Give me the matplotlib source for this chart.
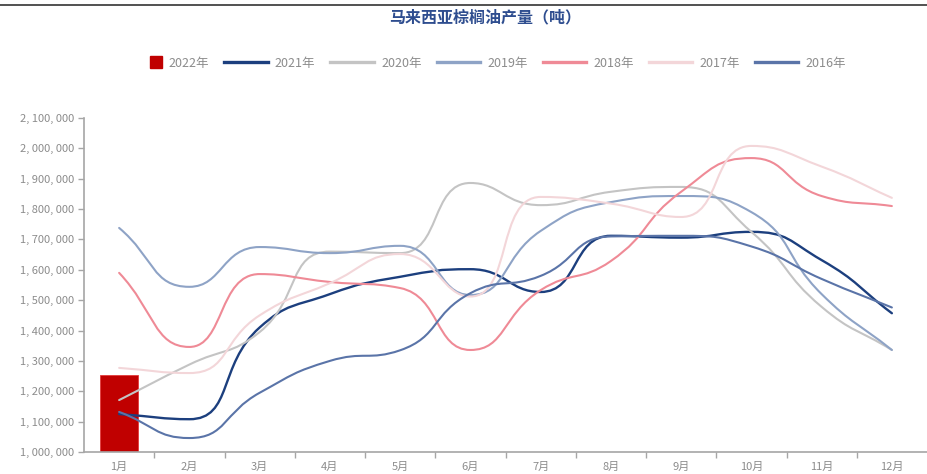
import matplotlib
matplotlib.use("Agg")
import matplotlib.pyplot as plt
from matplotlib.path import Path
from matplotlib.patches import PathPatch, Rectangle
from matplotlib.lines import Line2D
from matplotlib.legend_handler import HandlerPatch

plt.rcParams['font.family'] = ['Noto Sans CJK SC', 'DejaVu Sans']

# 数据（吨）
months = ['1月', '2月', '3月', '4月', '5月', '6月', '7月', '8月', '9月', '10月', '11月', '12月']
y2022 = [1254000]
y2021 = [1125000, 1108000, 1410000, 1520000, 1577000, 1602000, 1527000, 1712000, 1706000, 1725000, 1632000, 1457000]
y2020 = [1171000, 1288000, 1395000, 1660000, 1655000, 1886000, 1813000, 1857000, 1873000, 1725000, 1478000, 1336000]
y2019 = [1738000, 1544000, 1675000, 1655000, 1679000, 1517000, 1728000, 1823000, 1843000, 1790000, 1520000, 1336000]
y2018 = [1590000, 1346000, 1586000, 1560000, 1540000, 1336000, 1533000, 1629000, 1857000, 1968000, 1843000, 1810000]
y2017 = [1277000, 1260000, 1450000, 1556000, 1652000, 1512000, 1840000, 1818000, 1774000, 2008000, 1940000, 1837000]
y2016 = [1132000, 1046000, 1195000, 1300000, 1335000, 1523000, 1580000, 1710000, 1712000, 1677000, 1570000, 1476000]

series = [
    ('2021年', y2021, '#1c3f7e', 1.7),
    ('2020年', y2020, '#c4c4c4', 1.5),
    ('2019年', y2019, '#8ea3c6', 1.5),
    ('2018年', y2018, '#ef8a96', 1.5),
    ('2017年', y2017, '#f3d6d9', 1.5),
    ('2016年', y2016, '#5a74a8', 1.5),
]


def clamp(v, a, b):
    return max(min(a, b), min(max(a, b), v))


# 平滑曲线（类似 echarts smooth），在像素比例空间里算控制点
def smooth_path(xs, ys, sx, sy, s=0.5):
    px = [x * sx for x in xs]
    py = [y * sy for y in ys]
    n = len(px)
    cin = [None] * n
    cout = [None] * n
    for i in range(n):
        x, y = px[i], py[i]
        p = i - 1 if i > 0 else i
        q = i + 1 if i < n - 1 else i
        vx, vy = px[q] - px[p], py[q] - py[p]
        d0 = ((x - px[p]) ** 2 + (y - py[p]) ** 2) ** 0.5
        d1 = ((px[q] - x) ** 2 + (py[q] - y) ** 2) ** 0.5
        r = d1 / (d0 + d1) if d0 + d1 > 0 else 0.5
        ix, iy = x - vx * s * (1 - r), y - vy * s * (1 - r)
        ox, oy = x + vx * s * r, y + vy * s * r
        ox, oy = clamp(ox, x, px[q]), clamp(oy, y, py[q])
        if d0 > 0 and d1 > 0:
            ix, iy = x - (ox - x) * d0 / d1, y - (oy - y) * d0 / d1
        ix, iy = clamp(ix, px[p], x), clamp(iy, py[p], y)
        if d0 > 0 and d1 > 0:
            ox, oy = x + (x - ix) * d1 / d0, y + (y - iy) * d1 / d0
        cin[i] = (ix, iy)
        cout[i] = (ox, oy)
    verts = [(px[0], py[0])]
    codes = [Path.MOVETO]
    for i in range(n - 1):
        verts += [cout[i], cin[i + 1], (px[i + 1], py[i + 1])]
        codes += [Path.CURVE4] * 3
    verts = [(a / sx, b / sy) for a, b in verts]
    return Path(verts, codes)


fig = plt.figure(figsize=(9.27, 4.74), dpi=100)
ax = fig.add_axes([84 / 927, 22 / 474, 843 / 927, 334 / 474])

x = list(range(len(months)))
ax.bar(x[:len(y2022)], y2022, width=0.55, color='#c00000', edgecolor='#e23a3a',
       linewidth=0.6, zorder=2)

handles = [Rectangle((0, 0), 1, 1, color='#c00000')]
labels = ['2022年']
for name, vals, col, lw in series:
    path = smooth_path(x, vals, 70.25, 30.36 / 100000)
    ax.add_patch(PathPatch(path, fill=False, edgecolor=col, lw=lw, zorder=3,
                           capstyle='round', joinstyle='round'))
    handles.append(Line2D([], [], color=col, lw=2.4))
    labels.append(name)

ax.set_xlim(-0.5, 11.5)
ax.set_ylim(1000000, 2100000)
ax.set_yticks(range(1000000, 2100001, 100000))
ax.set_yticklabels(['{:,}'.format(v).replace(',', ', ') for v in range(1000000, 2100001, 100000)])

ax.set_xticks([i + 0.5 for i in range(11)])
ax.set_xticklabels([])
ax.set_xticks(x, minor=True)
ax.set_xticklabels(months, minor=True)
ax.tick_params(axis='x', which='major', length=4, width=1, color='#a6a6a6', direction='out')
ax.tick_params(axis='x', which='minor', length=0, pad=7, labelsize=8, labelcolor='#8c8c8c')
ax.tick_params(axis='y', length=4, width=1, color='#a6a6a6', pad=3, labelsize=8,
               labelcolor='#8c8c8c')

for side in ['top', 'right']:
    ax.spines[side].set_visible(False)
for side in ['left', 'bottom']:
    ax.spines[side].set_color('#a6a6a6')
    ax.spines[side].set_linewidth(1.2)


def square_patch(legend, orig_handle, xdescent, ydescent, width, height, fontsize):
    h = 0.95 * fontsize
    return Rectangle((width - xdescent - h, height / 2 - ydescent - h / 2), h, h)


fig.legend(handles, labels, ncol=7, loc='center', bbox_to_anchor=(0.52, 1 - 63 / 474),
           frameon=False, fontsize=9, labelcolor='#8c8c8c', handlelength=3.5,
           handletextpad=0.55, columnspacing=1.2,
           handler_map={Rectangle: HandlerPatch(patch_func=square_patch)})

fig.text(485 / 927, 1 - 17 / 474, '马来西亚棕榈油产量（吨）', ha='center', va='center',
         color='#2e4d8f', fontsize=11.5, fontweight='bold')
fig.add_artist(Line2D([0, 1], [1 - 5 / 474] * 2, transform=fig.transFigure,
                      color='#333333', lw=1.2))

fig.savefig('out.png', dpi=100)
